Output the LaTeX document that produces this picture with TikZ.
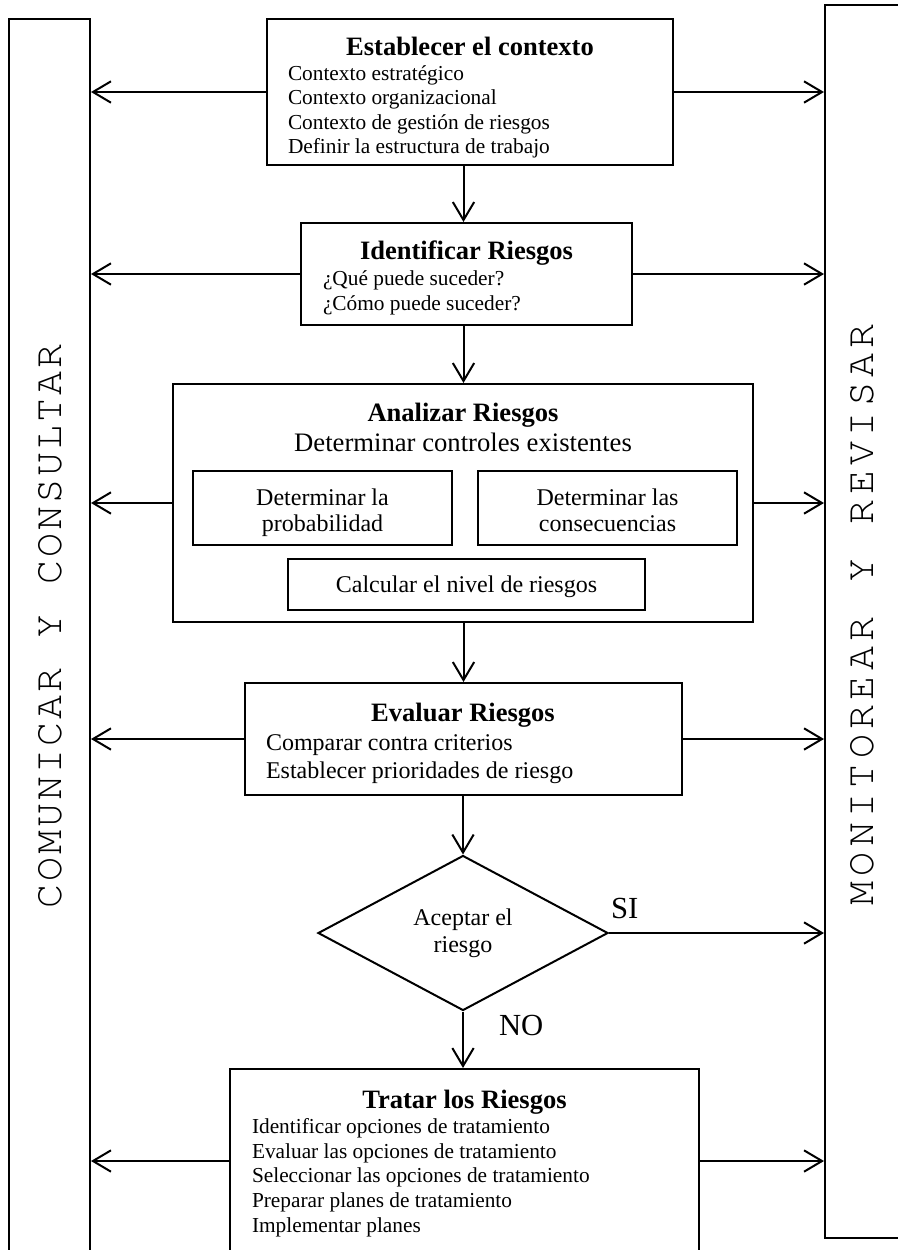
\documentclass[tikz,border=0pt]{standalone}
\usepackage{fontspec}
\setmainfont{Liberation Serif}
\newfontfamily\barfont{texgyrecursor-regular.otf}
\usetikzlibrary{arrows.meta,shapes.geometric,fit}

\makeatletter
\newcommand\lspread[2]{\@tfor\ch:=#2\do{\ch\kern#1}}
\makeatother

\tikzset{every picture/.style={line width=1.5pt}}
\tikzset{
  box/.style={draw, rectangle, inner sep=0pt},
  ttl/.style={font=\fontsize{19.9}{24}\selectfont\bfseries, inner sep=0pt},
  itm/.style={font=\fontsize{16}{18.5}\selectfont, inner sep=0pt},
  mid/.style={font=\fontsize{18}{20}\selectfont, inner sep=0pt},
  big/.style={font=\fontsize{18}{20}\selectfont, align=center},
  lbl/.style={font=\fontsize{23}{26}\selectfont, inner sep=0pt},
  bartxt/.style={font=\fontsize{30}{34}\selectfont\barfont, rotate=90, inner sep=0pt},
  arr/.style={-{Straight Barb[length=13.5pt,width=16pt]}}
}

\begin{document}
\begin{tikzpicture}[x=0.75pt,y=0.75pt,yscale=-1,xscale=1]
\useasboundingbox (0,0) rectangle (898,1250);

%Shape: side bars
\node[box, fit={(9,19) (90,1300)}] (comm) {};
\node[box, fit={(825,5) (910,1238)}] (mon) {};
% Text Node
\node[bartxt] (commLbl) at (50,625) {\lspread{2.25pt}{COMUNICAR{\ }Y{\ }CONSULTAR}};
% Text Node
\node[bartxt] (monLbl) at (862,612) {\lspread{4pt}{MONITOREAR{\ }Y{\ }REVISAR}};

%Shape: Rectangle
\node[box, fit={(267,19) (673,165)}] (ctx) {};
\node[ttl, anchor=base] (ctxT) at (470,55) {Establecer el contexto};
\foreach \t [count=\i from 0] in {Contexto estratégico,Contexto organizacional,Contexto de gestión de riesgos,Definir la estructura de trabajo}
  \node[itm, anchor=base west] (ctx\i) at (287,80+24.6*\i) {\t};

%Shape: Rectangle
\node[box, fit={(301,223) (632,325)}] (ident) {};
\node[ttl, anchor=base] (identT) at (466.5,259) {Identificar Riesgos};
\foreach \t [count=\i from 0] in {¿Qué puede suceder?,¿Cómo puede suceder?}
  \node[itm, anchor=base west] (ident\i) at (322,285+25*\i) {\t};

%Shape: Rectangle
\node[box, fit={(173,384) (753,622)}] (anl) {};
\node[ttl, anchor=base] (anlT) at (463,421.7) {Analizar Riesgos};
\node[font=\fontsize{20}{24}\selectfont, inner sep=0pt, anchor=base] (anlS) at (463,451) {Determinar controles existentes};
\node[box, fit={(193,471) (452,545)}] (prob) {};
\node[box, fit={(478,471) (737,545)}] (cons) {};
\node[box, fit={(288,559) (645,610)}] (calc) {};
% Text Node
\node[mid, anchor=base] (prob0) at (322.5,505) {Determinar la};
\node[mid, anchor=base] (prob1) at (322.5,531.7) {probabilidad};
\node[mid, anchor=base] (cons0) at (607.5,505) {Determinar las};
\node[mid, anchor=base] (cons1) at (607.5,531.7) {consecuencias};
\node[mid, anchor=base] (calc0) at (466.5,592.7) {Calcular el nivel de riesgos};

%Shape: Rectangle
\node[box, fit={(245,683) (682,795)}] (evl) {};
\node[ttl, anchor=base] (evlT) at (463,721.7) {Evaluar Riesgos};
\foreach \t [count=\i from 0] in {Comparar contra criterios,Establecer prioridades de riesgo}
  \node[mid, anchor=base west] (evl\i) at (265,750+28*\i) {\t};

%Shape: Diamond
\node[draw, diamond, big, inner sep=0pt, aspect=1.87, minimum width=217.5pt, minimum height=116.25pt] (acc) at (463,933) {Aceptar el\\riesgo};
% Text Node
\node[lbl, anchor=base west] (si) at (610,918) {SI};
% Text Node
\node[lbl, anchor=base west] (no) at (498,1035) {NO};

%Shape: Rectangle
\node[box, fit={(230,1069) (699,1300)}] (trt) {};
\node[ttl, anchor=base] (trtT) at (464.5,1108) {Tratar los Riesgos};
\foreach \t [count=\i from 0] in {Identificar opciones de tratamiento,Evaluar las opciones de tratamiento,Seleccionar las opciones de tratamiento,Preparar planes de tratamiento,Implementar planes}
  \node[itm, anchor=base west] (trt\i) at (251,1133.3+24.7*\i) {\t};

\coordinate (spine) at (463.5,0);
\coordinate (trtMid) at (464,1161);

%Straight Lines
\draw[arr] (ctx.south -| spine) -- (ident.north -| spine);
\draw[arr] (ident.south -| spine) -- (anl.north -| spine);
\draw[arr] (anl.south -| spine) -- (evl.north -| spine);
\draw[arr] (evl.south -| acc.north) -- (acc.north);
\draw[arr] (acc.south) -- (acc.south |- trt.north);

%Straight Lines
\foreach \b in {ctx,ident,anl,evl}{
  \draw[arr] (\b.west) -- (\b.west -| comm.east);
  \draw[arr] (\b.east) -- (\b.east -| mon.west);
}
\draw[arr] (acc.east) -- (acc.east -| mon.west);
\draw[arr] (trt.west |- trtMid) -- (comm.east |- trtMid);
\draw[arr] (trt.east |- trtMid) -- (mon.west |- trtMid);

\end{tikzpicture}
\end{document}
